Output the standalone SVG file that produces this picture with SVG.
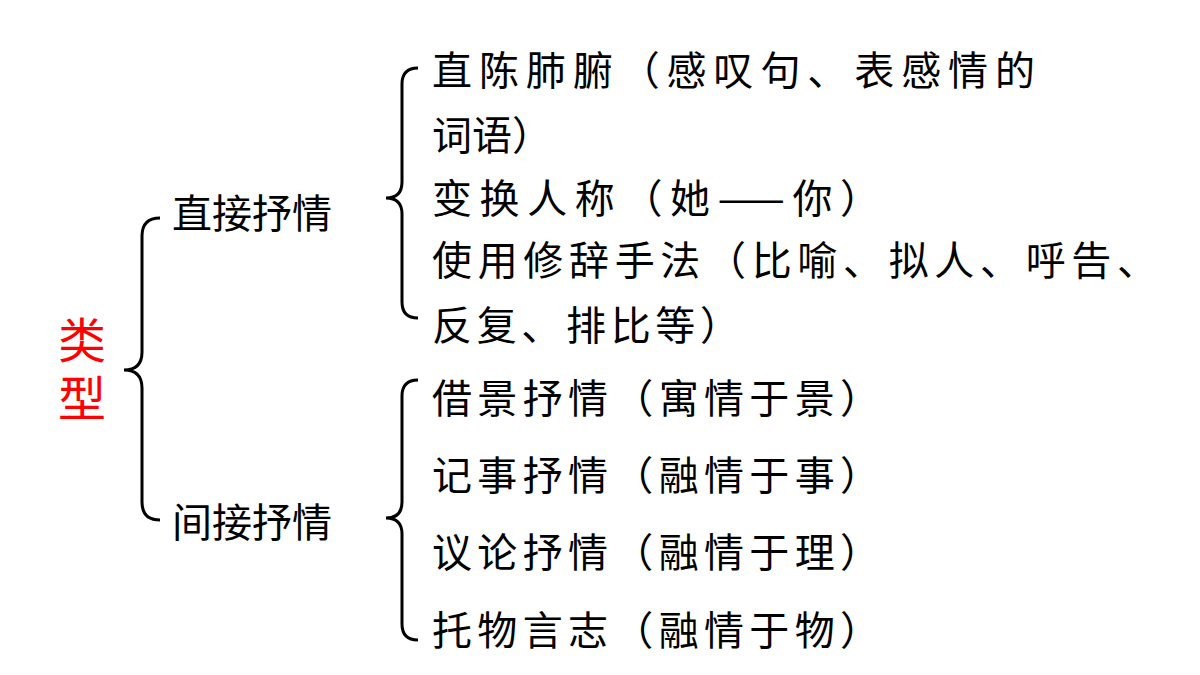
<svg xmlns="http://www.w3.org/2000/svg" width="1200" height="675" viewBox="0 0 1200 675">
<style>
text{font-family:"Noto Sans CJK SC","Noto Sans",sans-serif;font-size:40px;fill:#000}
.r{fill:#ff0000;font-size:48px}
.b{fill:none;stroke:#000;stroke-width:3}
</style>
<rect width="1200" height="675" fill="#fff"/>
<g id="connectors">
<path class="b" d="M160 218 Q142 218 142 236 L142 352 Q142 370 124 370 Q142 370 142 388 L142 502 Q142 520 160 520"/>
<path class="b" d="M418 68 Q402 68 402 84 L402 182 Q402 198 386 198 Q402 198 402 214 L402 302 Q402 318 418 318"/>
<path class="b" d="M418 380 Q402 380 402 396 L402 502 Q402 518 386 518 Q402 518 402 534 L402 624 Q402 640 418 640"/>
</g>
<g id="root"><text class="r" x="58" y="358">类</text><text class="r" x="58" y="416">型</text></g>
<g id="direct"><text x="172" y="228">直接抒情</text></g>
<g id="indirect"><text x="172" y="537">间接抒情</text></g>
<g id="d1"><text x="432" y="85" textLength="603" lengthAdjust="spacing">直陈肺腑（感叹句、表感情的</text><text x="432" y="150" textLength="120" lengthAdjust="spacing">词语）</text></g>
<g id="d2"><text x="432" y="213" textLength="448" lengthAdjust="spacing">变换人称（她——你）</text></g>
<g id="d3"><text x="432" y="275" textLength="725" lengthAdjust="spacing">使用修辞手法（比喻、拟人、呼告、</text><text x="432" y="340" textLength="308" lengthAdjust="spacing">反复、排比等）</text></g>
<g id="i1"><text x="432" y="413" textLength="448" lengthAdjust="spacing">借景抒情（寓情于景）</text></g>
<g id="i2"><text x="432" y="490" textLength="448" lengthAdjust="spacing">记事抒情（融情于事）</text></g>
<g id="i3"><text x="432" y="567" textLength="448" lengthAdjust="spacing">议论抒情（融情于理）</text></g>
<g id="i4"><text x="432" y="645" textLength="448" lengthAdjust="spacing">托物言志（融情于物）</text></g>
</svg>
